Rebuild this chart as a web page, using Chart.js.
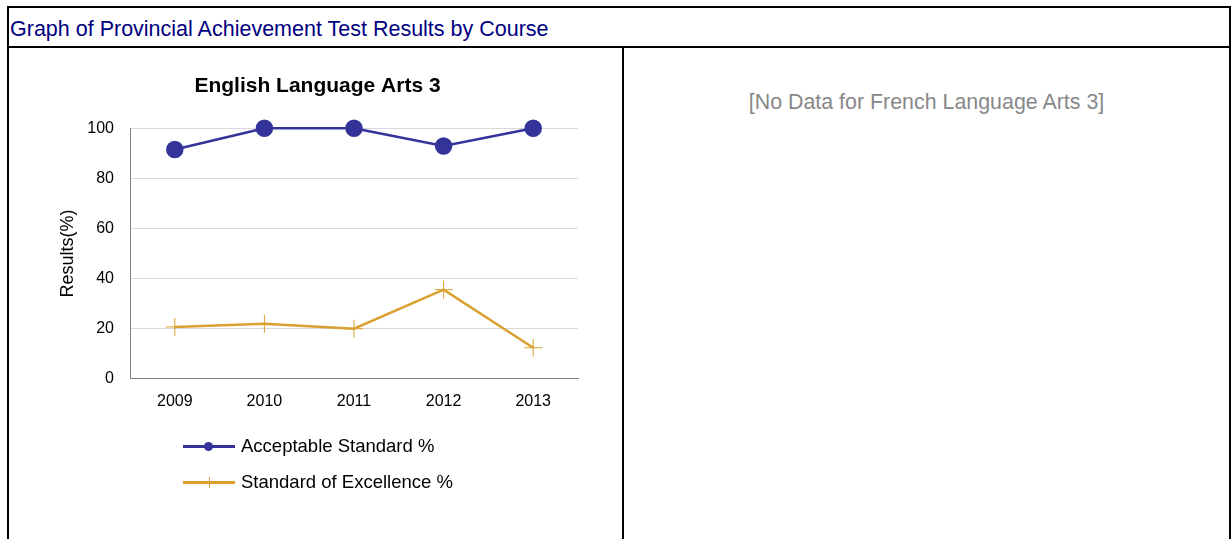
<!DOCTYPE html>
<html>
<head>
<meta charset="utf-8">
<script src="https://cdn.jsdelivr.net/npm/chart.js@4"></script>
<style>
  body { margin: 0; background: #fff; font-family: "Liberation Sans", Arial, sans-serif; }
  .ln { position: absolute; background: #000; }
  #head { position: absolute; left: 10px; top: 8px; height: 38px; line-height: 42px; font-size: 21.5px; color: #000080; white-space: nowrap; }
  #wrap { position: absolute; left: 9px; top: 48px; width: 613px; height: 400px; }
  #nodata { position: absolute; left: 624px; width: 605px; top: 90px; text-align: center; font-size: 21.4px; color: #888; }
  #legend { position: absolute; left: 183px; top: 435px; font-size: 18.5px; color: #000; }
  .row { position: relative; height: 36px; }
  .sym { position: absolute; left: 0; top: 10px; width: 52px; height: 3px; }
  .dot { position: absolute; left: 21px; top: -3px; width: 9px; height: 9px; border-radius: 50%; }
  .tick { position: absolute; left: 26px; top: -4px; width: 1px; height: 11px; }
  .txt { position: absolute; left: 58px; top: 0; white-space: nowrap; line-height: 22px; }
</style>
</head>
<body>
<div class="ln" style="left:7px;top:6px;width:1224px;height:2px"></div>
<div class="ln" style="left:7px;top:46px;width:1224px;height:2px"></div>
<div class="ln" style="left:7px;top:6px;width:2px;height:600px"></div>
<div class="ln" style="left:1229px;top:6px;width:2px;height:600px"></div>
<div class="ln" style="left:622px;top:46px;width:2px;height:600px"></div>
<div id="head">Graph of Provincial Achievement Test Results by Course</div>
<div id="nodata">[No Data for French Language Arts 3]</div>
<div id="wrap"><canvas id="chartELA"></canvas></div>
<div id="legend"></div>

<script>
// ── data ──
const years      = ["2009", "2010", "2011", "2012", "2013"];
const acceptable = [91.5, 100, 100, 92.9, 100];
const excellence = [20.7, 22.0, 20.0, 35.6, 12.4];
const yMin = 0, yMax = 100, yStep = 20;

const BLUE = "#333399";
const GOLD = "#D9A030";
const FONT = "'Liberation Sans', Arial, sans-serif";

const chart = new Chart(document.getElementById("chartELA"), {
  type: "line",
  data: {
    labels: years,
    datasets: [
      {
        label: "Acceptable Standard %", data: acceptable,
        borderColor: BLUE, backgroundColor: BLUE, borderWidth: 2.5,
        pointStyle: "circle", pointRadius: 7.5, pointHoverRadius: 7.5,
        tension: 0, clip: false
      },
      {
        label: "Standard of Excellence %", data: excellence,
        borderColor: GOLD, backgroundColor: GOLD, borderWidth: 2.5,
        pointStyle: "cross", pointRadius: 9, pointHoverRadius: 9,
        pointBorderWidth: 1, tension: 0, clip: false
      }
    ]
  },
  options: {
    responsive: true,
    maintainAspectRatio: false,
    animation: false,
    layout: { padding: { left: 48, right: 44, top: 0, bottom: 32 } },
    plugins: {
      legend: { display: false },
      tooltip: { enabled: false },
      title: {
        display: true, text: "English Language Arts 3", color: "#000",
        font: { family: FONT, size: 21, weight: "bold" },
        padding: { top: 26, bottom: 29 }
      }
    },
    scales: {
      x: {
        offset: true,
        grid: { display: false },
        border: { color: "#7f7f7f", width: 1 },
        ticks: { color: "#000", font: { family: FONT, size: 16 }, padding: 5 }
      },
      y: {
        min: yMin, max: yMax,
        afterFit: s => { s.width = 73; },
        grid: {
          drawTicks: false,
          color: c => c.tick.value === 0 ? "#7f7f7f" : "#d9d9d9"
        },
        border: { color: "#7f7f7f", width: 1 },
        ticks: { stepSize: yStep, color: "#000", font: { family: FONT, size: 16 }, padding: 16 },
        title: {
          display: true, text: "Results(%)", color: "#000",
          font: { family: FONT, size: 18 }, padding: 0
        }
      }
    }
  }
});

// html legend, stacked like the original
const legend = document.getElementById("legend");
chart.data.datasets.forEach(ds => {
  const row = document.createElement("div");
  row.className = "row";
  const sym = document.createElement("div");
  sym.className = "sym";
  sym.style.background = ds.borderColor;
  const mark = document.createElement("div");
  mark.className = ds.pointStyle === "circle" ? "dot" : "tick";
  mark.style.background = ds.borderColor;
  sym.appendChild(mark);
  const txt = document.createElement("div");
  txt.className = "txt";
  txt.textContent = ds.label;
  row.appendChild(sym);
  row.appendChild(txt);
  legend.appendChild(row);
});
</script>
</body>
</html>
